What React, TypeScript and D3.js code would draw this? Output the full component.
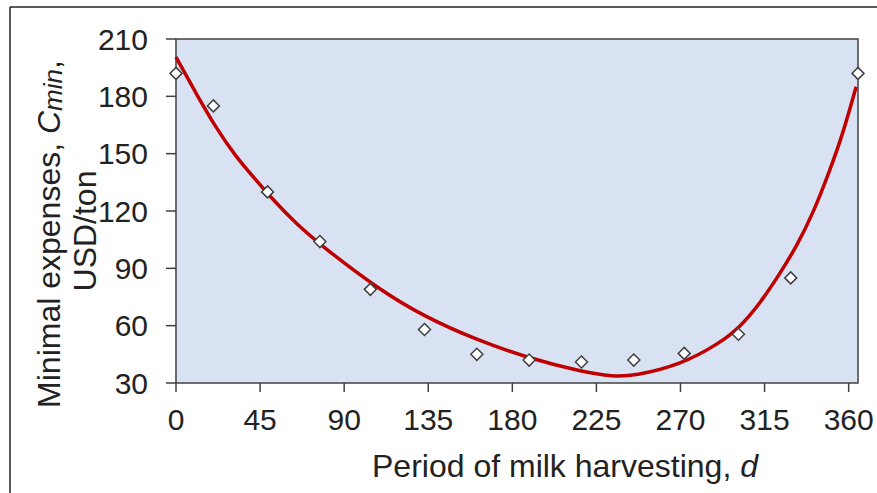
import React from "react";
import * as d3 from "d3";

const xTicks = [0, 45, 90, 135, 180, 225, 270, 315, 360];
const yTicks = [30, 60, 90, 120, 150, 180, 210];

// observed points (days, USD/ton)
const obsDays = [0, 20, 49, 77, 104, 133, 161, 189, 217, 245, 272, 301, 329, 365];
const obsCost = [192, 175, 130, 104, 79, 58, 45, 42, 41, 42, 45.5, 55.5, 85, 192];

// trend curve
const curveDays = [0, 10.7, 21.4, 32, 43, 52, 64, 78.5, 109, 133, 161, 189, 217, 234, 245, 270, 291, 302, 312.6, 323.3, 332, 341, 350, 357, 364];
const curveCost = [200.5, 181.6, 163.5, 148.4, 136, 125.8, 113.6, 101.3, 78.7, 64.7, 52.5, 42.9, 36, 33.3, 33.7, 39.5, 50.8, 59.4, 71.7, 87.4, 101.3, 118.8, 141.4, 160.7, 185];

const W = 877;
const H = 493;
const left = 176;
const right = 858;
const top = 39;
const bottom = 383;

export default function App() {
  const x = d3.scaleLinear().domain([0, 365]).range([left, right]);
  const y = d3.scaleLinear().domain([30, 210]).range([bottom, top]);

  const line = d3
    .line<number>()
    .x((_, i) => x(curveDays[i]))
    .y((d) => y(d))
    .curve(d3.curveBasis);

  const font = "'Liberation Sans', Arial, sans-serif";
  const axisColor = "#404040";

  const diamond = (cx: number, cy: number, r: number) =>
    `M${cx},${cy - r}L${cx + r},${cy}L${cx},${cy + r}L${cx - r},${cy}Z`;

  return (
    <svg
      width={W}
      height={H}
      style={{ position: "absolute", left: 0, top: 0, background: "#fff" }}
      fontFamily={font}
    >
      {/* outer frame (left and top visible) */}
      <line x1={10} y1={7} x2={W} y2={7} stroke="#222" strokeWidth={1.5} />
      <line x1={10} y1={7} x2={10} y2={H} stroke="#222" strokeWidth={1.5} />

      {/* plot background */}
      <rect x={left} y={top} width={right - left} height={bottom - top} fill="#D9E2F3" />
      {/* plot frame */}
      <rect
        x={left}
        y={top}
        width={right - left}
        height={bottom - top}
        fill="none"
        stroke={axisColor}
        strokeWidth={1.5}
      />

      {/* y ticks */}
      {yTicks.map((t) => (
        <g key={"y" + t}>
          <line x1={left - 10} x2={left} y1={y(t)} y2={y(t)} stroke={axisColor} strokeWidth={1.5} />
          <text x={148} y={y(t)} dy="0.36em" textAnchor="end" fontSize={30} fill="#222">
            {t}
          </text>
        </g>
      ))}

      {/* x ticks */}
      {xTicks.map((t) => (
        <g key={"x" + t}>
          <line x1={x(t)} x2={x(t)} y1={bottom} y2={bottom + 9} stroke={axisColor} strokeWidth={1.5} />
          <text x={x(t)} y={430} textAnchor="middle" fontSize={30} fill="#222">
            {t}
          </text>
        </g>
      ))}

      {/* trend curve */}
      <path d={line(curveCost) || ""} fill="none" stroke="#C00000" strokeWidth={3.5} />

      {/* observations */}
      {obsCost.map((v, i) => (
        <path
          key={"p" + i}
          d={diamond(x(obsDays[i]), y(v), 6)}
          fill="#fff"
          stroke="#404040"
          strokeWidth={1.5}
        />
      ))}

      {/* x title */}
      <text x={565} y={477} textAnchor="middle" fontSize={32} fill="#222">
        Period of milk harvesting, <tspan fontStyle="italic">d</tspan>
      </text>

      {/* y title */}
      <g transform="translate(60,234) rotate(-90)">
        <text x={0} y={0} textAnchor="middle" fontSize={32} fill="#222">
          Minimal expenses,{" "}
          <tspan fontStyle="italic">C</tspan>
          <tspan fontStyle="italic" fontSize={26} dy={2}>min</tspan>
          <tspan dy={-2}>,</tspan>
        </text>
      </g>
      <g transform="translate(96,231) rotate(-90)">
        <text x={0} y={0} textAnchor="middle" fontSize={32} fill="#222">
          USD/ton
        </text>
      </g>
    </svg>
  );
}
